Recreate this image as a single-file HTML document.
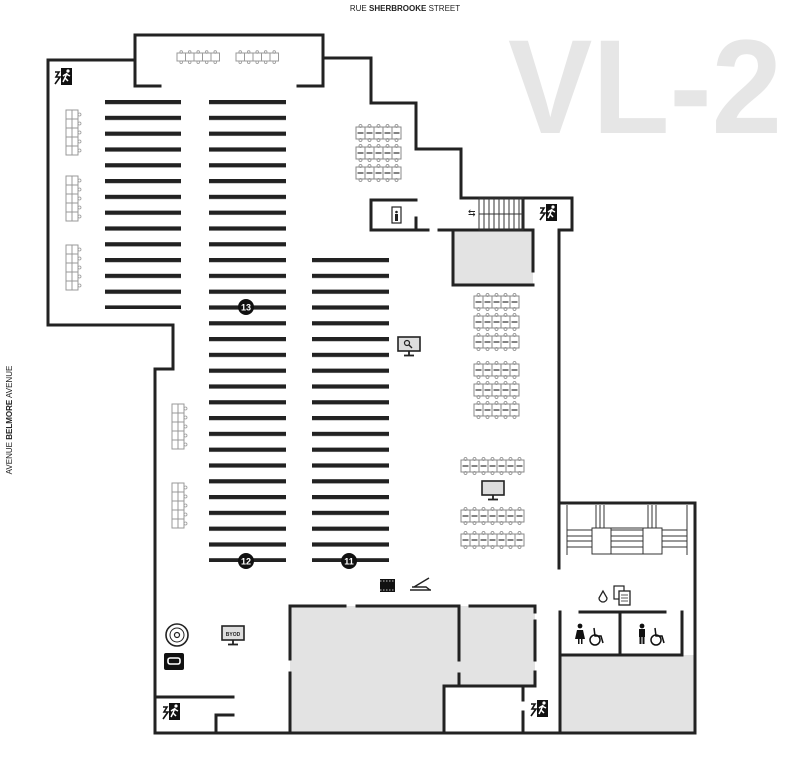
<!DOCTYPE html>
<html><head><meta charset="utf-8"><style>
html,body{margin:0;padding:0;background:#fff;}
svg{display:block;font-family:"Liberation Sans",sans-serif;}
</style></head><body>
<svg width="787" height="761" viewBox="0 0 787 761" xmlns="http://www.w3.org/2000/svg">
<defs>
<pattern id="sh" patternUnits="userSpaceOnUse" width="400" height="15.8" patternTransform="translate(0,100)">
<rect x="0" y="0" width="400" height="4.2" fill="#222"/>
</pattern>
<g id="ch">
<rect x="0" y="0" width="9" height="12" fill="#fff" stroke="#888" stroke-width="1"/>
<line x1="1.5" y1="6" x2="7.5" y2="6" stroke="#666" stroke-width="1.6"/>
<circle cx="4.5" cy="-1" r="1.5" fill="none" stroke="#888" stroke-width="0.8"/>
<circle cx="4.5" cy="13" r="1.5" fill="none" stroke="#888" stroke-width="0.8"/>
</g>
<g id="cv">
<rect x="0" y="0" width="12" height="9" fill="#fff" stroke="#999" stroke-width="1"/>
<line x1="6" y1="0" x2="6" y2="9" stroke="#999" stroke-width="1"/>
<circle cx="13.5" cy="4.5" r="1.5" fill="none" stroke="#999" stroke-width="0.8"/>
</g>
<g id="ct">
<rect x="0" y="0" width="8.5" height="8" fill="#fff" stroke="#999" stroke-width="1"/>
<circle cx="4.2" cy="-1" r="1.3" fill="none" stroke="#999" stroke-width="0.8"/>
<circle cx="4.2" cy="9.2" r="1.3" fill="none" stroke="#999" stroke-width="0.8"/>
</g>
<g id="ex">
<rect x="7" y="0" width="11" height="17" fill="#111"/>
<circle cx="14" cy="3" r="1.6" fill="#fff"/>
<path d="M13 5 L11 10 L9 14 M11 10 L14 13 M12 6 L16 8 M12 6 L9 8" stroke="#fff" stroke-width="1.5" fill="none"/>
<path d="M1 4 L5 4 L2 9 L6 9 L1 16" stroke="#111" stroke-width="1.6" fill="none"/>
</g>
<g id="mon">
<rect x="0" y="0" width="22" height="14" fill="#ddd" stroke="#222" stroke-width="1.6"/>
<line x1="11" y1="14" x2="11" y2="18" stroke="#222" stroke-width="1.8"/>
<line x1="6" y1="18.5" x2="16" y2="18.5" stroke="#222" stroke-width="1.8"/>
</g>
<g id="r5"><use href="#ch" x="0" y="0"/><use href="#ch" x="9" y="0"/><use href="#ch" x="18" y="0"/><use href="#ch" x="27" y="0"/><use href="#ch" x="36" y="0"/></g>
<g id="r7"><use href="#r5" x="0" y="0"/><use href="#ch" x="45" y="0"/><use href="#ch" x="54" y="0"/></g>
</defs>

<!-- header texts -->
<text x="405" y="11" font-size="8" text-anchor="middle" fill="#222">RUE <tspan font-weight="bold">SHERBROOKE</tspan> STREET</text>
<text transform="translate(12,420) rotate(-90)" font-size="8" text-anchor="middle" fill="#222">AVENUE <tspan font-weight="bold">BELMORE</tspan> AVENUE</text>
<text x="508" y="133" font-size="134" font-weight="bold" fill="#e6e6e6" textLength="274" lengthAdjust="spacingAndGlyphs">VL-2</text>

<!-- gray rooms -->
<g fill="#e3e3e3">
<rect x="453" y="230" width="80" height="55"/>
<rect x="290" y="606" width="154" height="127"/>
<rect x="444" y="606" width="15" height="80"/>
<rect x="459" y="606" width="76" height="80"/>
<rect x="560" y="655" width="135" height="78"/>
</g>

<!-- walls -->
<g stroke="#222" stroke-width="3" fill="none" stroke-linecap="square">
<path d="M135 86 L135 35 L323 35 L323 86"/>
<path d="M135 86 L160 86 M298 86 L323 86"/>
<path d="M135 60 L48 60 L48 325 L173 325 L173 369 L155 369 L155 733 L695 733 L695 503 L560 503"/>
<path d="M323 58 L371 58 L371 103 L416 103 L416 149 L461 149 L461 198 L572 198 L572 230 L559 230 L559 568"/>
<path d="M371 200 L416 200 M371 200 L371 230 L428 230 M416 218 L416 230"/>
<path d="M439 230 L533 230 L533 271 M453 230 L453 285 L533 285"/>
<path d="M523 198 L523 230"/>
<path d="M560 612 L560 733 M580 612 L665 612 M682 612 L682 655 M560 655 L682 655 M620 612 L620 655"/>
<path d="M290 606 L345 606 M357 606 L459 606 M470 606 L535 606"/>
<path d="M290 606 L290 659 M290 673 L290 733"/>
<path d="M459 606 L459 660 M459 674 L459 686"/>
<path d="M535 606 L535 612 M535 621 L535 660 M535 672 L535 686"/>
<path d="M444 686 L535 686 M444 686 L444 733"/>
<path d="M523 686 L523 700 M523 712 L523 733"/>
<path d="M155 697 L233 697 M233 715 L216 715 L216 733"/>
</g>

<!-- stairs top -->
<g stroke="#333" stroke-width="1" fill="none">
<rect x="479" y="198" width="44" height="32"/>
<path d="M484 198V230 M489 198V230 M494 198V230 M499 198V230 M504 198V230 M509 198V230 M514 198V230 M519 198V230 M479 214H523"/>
</g>
<text x="468" y="216" font-size="9" fill="#222">⇆</text>

<!-- stair block right -->
<g stroke="#333" stroke-width="1" fill="none">
<path d="M567 505V555 M687 505V555"/>
<rect x="592" y="528" width="19" height="26" fill="#fff"/>
<rect x="643" y="528" width="19" height="26" fill="#fff"/>
<path d="M592 528 L662 528 L662 554 L592 554"/>
<path d="M596 505V528 M600 505V528 M604 505V528 M648 505V528 M652 505V528 M656 505V528"/>
<path d="M567 530H592 M567 536H592 M567 541H592 M567 547H592 M611 530H643 M611 536H643 M611 541H643 M611 547H643 M662 530H687 M662 536H687 M662 541H687 M662 547H687"/>
</g>

<!-- shelves -->
<rect x="105" y="99" width="76" height="210" fill="url(#sh)"/>
<rect x="209" y="99" width="77" height="463" fill="url(#sh)"/>
<rect x="312" y="257" width="77" height="305" fill="url(#sh)"/>
<g font-size="9" font-weight="bold" fill="#fff" text-anchor="middle">
<circle cx="246" cy="307" r="8" fill="#111"/><text x="246" y="310.5">13</text>
<circle cx="246" cy="561" r="8" fill="#111"/><text x="246" y="564.5">12</text>
<circle cx="349" cy="561" r="8" fill="#111"/><text x="349" y="564.5">11</text>
</g>

<!-- tables top alcove -->
<g>
<use href="#ct" x="177" y="53"/><use href="#ct" x="185.5" y="53"/><use href="#ct" x="194" y="53"/><use href="#ct" x="202.5" y="53"/><use href="#ct" x="211" y="53"/>
<use href="#ct" x="236" y="53"/><use href="#ct" x="244.5" y="53"/><use href="#ct" x="253" y="53"/><use href="#ct" x="261.5" y="53"/><use href="#ct" x="270" y="53"/>
</g>
<!-- left vertical tables -->
<g>
<use href="#cv" x="66" y="110"/><use href="#cv" x="66" y="119"/><use href="#cv" x="66" y="128"/><use href="#cv" x="66" y="137"/><use href="#cv" x="66" y="146"/>
<use href="#cv" x="66" y="176"/><use href="#cv" x="66" y="185"/><use href="#cv" x="66" y="194"/><use href="#cv" x="66" y="203"/><use href="#cv" x="66" y="212"/>
<use href="#cv" x="66" y="245"/><use href="#cv" x="66" y="254"/><use href="#cv" x="66" y="263"/><use href="#cv" x="66" y="272"/><use href="#cv" x="66" y="281"/>
<use href="#cv" x="172" y="404"/><use href="#cv" x="172" y="413"/><use href="#cv" x="172" y="422"/><use href="#cv" x="172" y="431"/><use href="#cv" x="172" y="440"/>
<use href="#cv" x="172" y="483"/><use href="#cv" x="172" y="492"/><use href="#cv" x="172" y="501"/><use href="#cv" x="172" y="510"/><use href="#cv" x="172" y="519"/>
</g>
<!-- right tables -->
<use href="#r5" x="356" y="127"/><use href="#r5" x="356" y="147"/><use href="#r5" x="356" y="167"/>
<use href="#r5" x="474" y="296"/><use href="#r5" x="474" y="316"/><use href="#r5" x="474" y="336"/>
<use href="#r5" x="474" y="364"/><use href="#r5" x="474" y="384"/><use href="#r5" x="474" y="404"/>
<use href="#r7" x="461" y="460"/><use href="#r7" x="461" y="510"/><use href="#r7" x="461" y="534"/>

<!-- icons -->
<use href="#mon" x="482" y="481"/>
<use href="#mon" x="398" y="337"/>
<circle cx="407" cy="343" r="2.5" fill="none" stroke="#222" stroke-width="1.2"/>
<line x1="409" y1="345" x2="412" y2="348" stroke="#222" stroke-width="1.4"/>
<use href="#mon" x="222" y="626"/>
<text x="233" y="636" font-size="5" font-weight="bold" text-anchor="middle" fill="#222">BYOD</text>
<circle cx="177" cy="635" r="11" fill="#fff" stroke="#222" stroke-width="1.6"/>
<circle cx="177" cy="635" r="7" fill="none" stroke="#222" stroke-width="1"/>
<circle cx="177" cy="635" r="2.5" fill="none" stroke="#222" stroke-width="1.2"/>
<rect x="164" y="653" width="20" height="17" rx="2" fill="#111"/>
<rect x="168" y="658" width="12" height="6" rx="2" fill="none" stroke="#fff" stroke-width="1.6"/>
<rect x="380" y="579" width="15" height="13" fill="#111"/>
<path d="M380 581H395 M380 590H395" stroke="#fff" stroke-width="0.8" stroke-dasharray="1.5 1.5"/>
<path d="M410 590 L431 590 M412 587 L426 587 L430 590 M414 587 L429 578" stroke="#222" stroke-width="1.4" fill="none"/>
<path d="M603 591 L599 598 A4 4 0 1 0 607 598 Z" fill="none" stroke="#222" stroke-width="1.3"/>
<rect x="614" y="586" width="10" height="13" fill="#fff" stroke="#222" stroke-width="1.2"/>
<rect x="619" y="591" width="11" height="14" fill="#fff" stroke="#222" stroke-width="1.3"/>
<path d="M621 595H628 M621 598H628 M621 601H628" stroke="#222" stroke-width="0.8"/>
<g fill="#111">
<circle cx="580" cy="626" r="2.4"/><path d="M577 630 L583 630 L585 639 L575 639 Z"/><rect x="578" y="638" width="1.5" height="6"/><rect x="581" y="638" width="1.5" height="6"/>
<circle cx="642" cy="626" r="2.4"/><rect x="639" y="629" width="6" height="8"/><rect x="639.5" y="636" width="2" height="8"/><rect x="642.5" y="636" width="2" height="8"/>
</g>
<g stroke="#111" stroke-width="1.5" fill="none">
<circle cx="595" cy="640" r="5"/><path d="M594 628 L595 636 L601 636 L603 643"/>
<circle cx="656" cy="640" r="5"/><path d="M655 628 L656 636 L662 636 L664 643"/>
</g>
<use href="#ex" x="54" y="68"/>
<use href="#ex" x="539" y="204"/>
<use href="#ex" x="162" y="703"/>
<use href="#ex" x="530" y="700"/>
<!-- elevator -->
<rect x="392" y="207" width="9" height="16" fill="#fff" stroke="#222" stroke-width="1.2"/>
<circle cx="396.5" cy="212" r="1.3" fill="#222"/><rect x="395" y="214" width="3" height="7" fill="#222"/>
</svg>
</body></html>
